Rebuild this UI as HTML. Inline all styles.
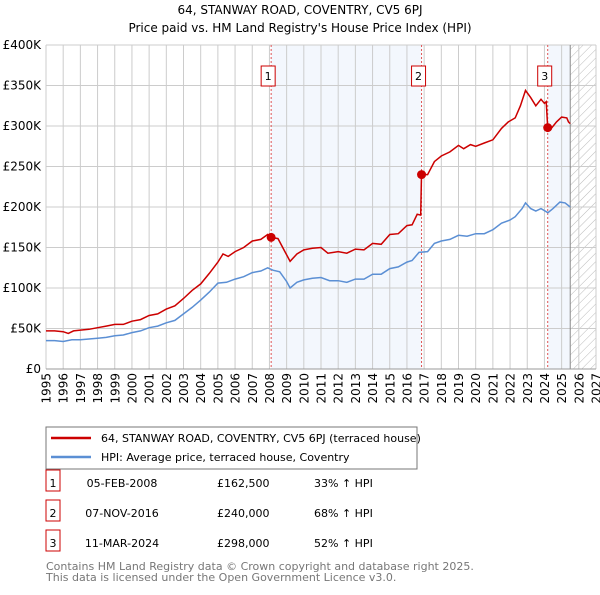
<!DOCTYPE html>
<html><head><meta charset="utf-8"><style>
body{margin:0;background:#fff;font-family:"Liberation Sans","DejaVu Sans",sans-serif;}
svg text{font-family:"DejaVu Sans","Liberation Sans",sans-serif;}
</style></head><body>
<svg id="c" width="600" height="590" xmlns="http://www.w3.org/2000/svg">
<defs><pattern id="hatch" width="6" height="6" patternUnits="userSpaceOnUse" patternTransform="rotate(45)"><line x1="0" y1="0" x2="0" y2="6" stroke="#bbb" stroke-width="1"/></pattern></defs>
<text x="300" y="14" text-anchor="middle" font-size="12">64, STANWAY ROAD, COVENTRY, CV5 6PJ</text>
<text x="300" y="32" text-anchor="middle" font-size="12">Price paid vs. HM Land Registry's House Price Index (HPI)</text>
<g id="plot"></g>
<g>
<rect x="46" y="427" width="371" height="42" fill="#fff" stroke="#777"/>
<line x1="51" y1="438" x2="91" y2="438" stroke="#cc0000" stroke-width="2.5"/>
<text x="101" y="442" font-size="11">64, STANWAY ROAD, COVENTRY, CV5 6PJ (terraced house)</text>
<line x1="51" y1="457" x2="91" y2="457" stroke="#5b8fd4" stroke-width="2.5"/>
<text x="101" y="461" font-size="11">HPI: Average price, terraced house, Coventry</text>
</g>
<g id="table" font-size="11"></g>
<text x="46" y="570" font-size="11" fill="#777">Contains HM Land Registry data © Crown copyright and database right 2025.</text>
<text x="46" y="581" font-size="11" fill="#777">This data is licensed under the Open Government Licence v3.0.</text>
</svg>
<script>
const hpiT=[1995,1995.5,1996,1996.5,1997,1997.5,1998,1998.5,1999,1999.5,2000,2000.5,2001,2001.5,2002,2002.5,2003,2003.5,2004,2004.5,2005,2005.5,2006,2006.5,2007,2007.5,2007.9,2008.2,2008.6,2009.0,2009.2,2009.6,2010,2010.5,2011,2011.5,2012,2012.5,2013,2013.5,2014,2014.5,2015,2015.5,2016,2016.3,2016.7,2017.2,2017.6,2018,2018.5,2019,2019.5,2020,2020.5,2021,2021.5,2022,2022.3,2022.7,2022.9,2023.2,2023.5,2023.8,2024.2,2024.5,2024.9,2025.2,2025.5];
const hpiV=[35,35,34,36,36,37,38,39,41,42,45,47,51,53,57,60,68,76,85,95,106,107,111,114,119,121,125,122,120,108,100,107,110,112,113,109,109,107,111,111,117,117,124,126,132,134,144,145,155,158,160,165,164,167,167,172,180,184,188,198,205,198,195,198,193,198,206,205,200];
const redT=[1995,1995.5,1996,1996.3,1996.6,1997,1997.5,1998,1998.5,1999,1999.5,2000,2000.5,2001,2001.5,2002,2002.5,2003,2003.5,2004,2004.5,2005,2005.3,2005.6,2006,2006.5,2007,2007.5,2007.9,2008.1,2008.5,2008.9,2009.2,2009.6,2010,2010.5,2011,2011.4,2012,2012.5,2013,2013.5,2014,2014.5,2015,2015.5,2016,2016.3,2016.6,2016.8,2016.85,2017.2,2017.6,2018,2018.5,2019,2019.3,2019.7,2020,2020.5,2021,2021.5,2021.9,2022.3,2022.6,2022.9,2023.2,2023.5,2023.8,2024.0,2024.1,2024.19,2024.4,2024.7,2025.0,2025.3,2025.4,2025.5];
const redV=[47,47,46,44,47,48,49,51,53,55,55,59,61,66,68,74,78,87,97,105,118,132,142,139,145,150,158,160,166,162.5,161,145,133,142,147,149,150,143,145,143,148,147,155,154,166,167,177,178,191,190,240,240,256,263,268,276,272,277,275,279,283,297,305,310,325,344,335,325,333,328,330,298,297,305,311,310,305,303];
const saleT=[2008.1,2016.85,2024.19];
const saleV=[162.5,240,298];
const saleLabels=["1","2","3"];
const saleDates=["05-FEB-2008","07-NOV-2016","11-MAR-2024"];
const salePrices=["£162,500","£240,000","£298,000"];
const saleHpi=["33% ↑ HPI","68% ↑ HPI","52% ↑ HPI"];
const yTicks=[0,50,100,150,200,250,300,350,400];
const xTicks=[1995,1996,1997,1998,1999,2000,2001,2002,2003,2004,2005,2006,2007,2008,2009,2010,2011,2012,2013,2014,2015,2016,2017,2018,2019,2020,2021,2022,2023,2024,2025,2026,2027];
const dataEnd=2025.5;
const X=t=>46+(t-1995)*550/32, Y=v=>369-v*324/400;
const NS="http://www.w3.org/2000/svg", g=document.getElementById('plot');
function mk(tag,a,p){const e=document.createElementNS(NS,tag);for(const k in a)e.setAttribute(k,a[k]);(p||g).appendChild(e);return e;}
let r=mk('rect',{x:X(saleT[0]),y:45,width:X(saleT[1])-X(saleT[0]),height:324,fill:'#eef3fc',opacity:0.7});


r=mk('rect',{x:X(saleT[2]),y:45,width:X(dataEnd)-X(saleT[2]),height:324,fill:'#eef3fc',opacity:0.7});


r=mk('rect',{x:X(dataEnd),y:45,width:X(2027)-X(dataEnd),height:324,fill:'url(#hatch)'});


yTicks.forEach(v=>{const l=mk('line',{x1:46,x2:596,y1:Y(v),y2:Y(v),stroke:'#ccc'});


const t=mk('text',{x:41,y:Y(v)+4,'text-anchor':'end','font-size':12});t.textContent=v==0?'£0':'£'+v+'K';

});
xTicks.forEach(y=>{const l=mk('line',{x1:X(y),x2:X(y),y1:45,y2:369,stroke:'#ccc'});


const t=mk('text',{x:0,y:0,'text-anchor':'end','font-size':12,transform:'translate('+(X(y)+4.5)+',373) rotate(-90)'});t.textContent=y;

});
let ax=mk('line',{x1:X(dataEnd),x2:X(dataEnd),y1:45,y2:369,stroke:'#888'});


ax=mk('line',{x1:46,x2:596,y1:369,y2:369,stroke:'#999'});


saleT.forEach((t,i)=>{const l=mk('line',{x1:X(t),x2:X(t),y1:45,y2:369,stroke:'#e05555','stroke-dasharray':'2,2','stroke-width':1});


const b=mk('rect',{x:X(t)-10,y:66,width:14,height:20,fill:'#fff',stroke:'#cc0000'});


const tx=mk('text',{x:X(t)-3,y:80,'text-anchor':'middle','font-size':11});tx.textContent=saleLabels[i];

});
const pts=(T,V)=>T.map((t,i)=>X(t).toFixed(1)+','+Y(V[i]).toFixed(1)).join(' ');
let pl=mk('polyline',{points:pts(hpiT,hpiV),fill:'none',stroke:'#5b8fd4','stroke-width':1.5});


pl=mk('polyline',{points:pts(redT,redV),fill:'none',stroke:'#cc0000','stroke-width':1.5});


saleT.forEach((t,i)=>{const c=mk('circle',{cx:X(t),cy:Y(saleV[i]),r:4.5,fill:'#cc0000'});

});
const tb=document.getElementById('table');
saleT.forEach((t,i)=>{const y=483+i*30;
const b=mk('rect',{x:46,y:y-13,width:14,height:21,fill:'#fff',stroke:'#cc0000'},tb);


const a=mk('text',{x:53,y:y+4,'text-anchor':'middle'},tb);a.textContent=saleLabels[i];


const d=mk('text',{x:122,y:y+4,'text-anchor':'middle'},tb);d.textContent=saleDates[i];


const p=mk('text',{x:217,y:y+4},tb);p.textContent=salePrices[i];


const h=mk('text',{x:314,y:y+4},tb);h.textContent=saleHpi[i];

});
</script>
</body></html>
